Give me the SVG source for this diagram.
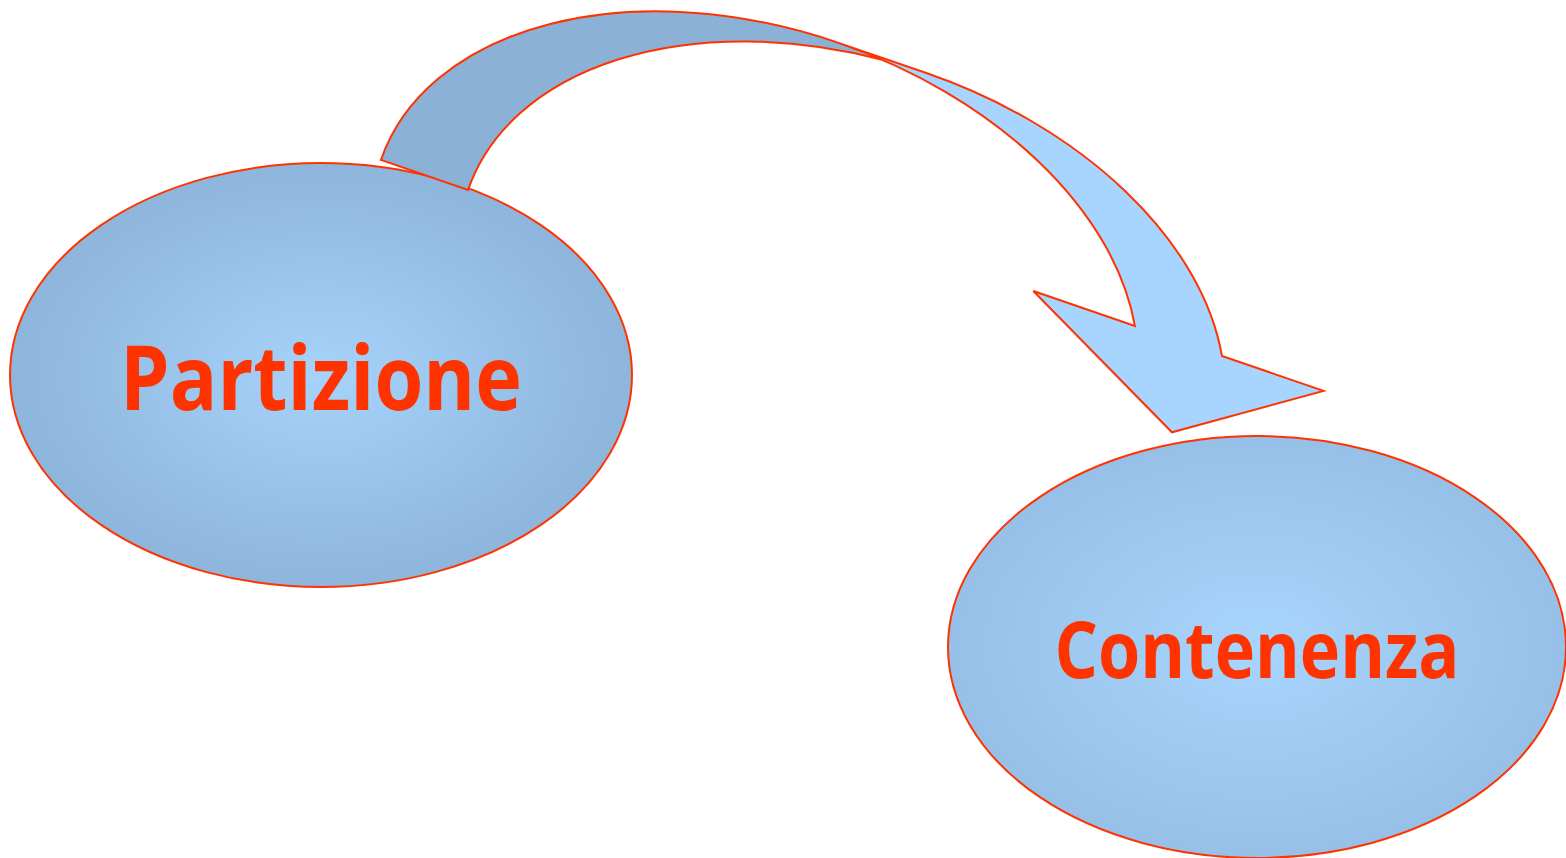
<svg xmlns="http://www.w3.org/2000/svg" width="1566" height="858" viewBox="0 0 1566 858">
  <defs>
    <radialGradient id="fillLeft" cx="50%" cy="50%" r="50%">
      <stop offset="0" stop-color="#A6D3FB"/>
      <stop offset="1" stop-color="#8EB5DB"/>
    </radialGradient>
    <radialGradient id="fillRight" cx="50%" cy="50%" r="50%">
      <stop offset="0" stop-color="#A8D5FE"/>
      <stop offset="1" stop-color="#96C0E7"/>
    </radialGradient>
    <style>
      .node { stroke: #FF3300; stroke-width: 2; }
      .label { font-family: "Open Sans", "DejaVu Sans", sans-serif; font-weight: 700; fill: #FF3300; text-anchor: middle; }
      .band-front { fill: #A8D5FF; stroke: none; }
      .band-back { fill: #8BB2D6; stroke: none; }
      .band-edge { fill: none; stroke: #FF3300; stroke-width: 2; stroke-linejoin: miter; }
    </style>
  </defs>

  <rect width="1566" height="858" fill="#FFFFFF"/>

  <g id="partizione">
    <ellipse class="node" cx="321" cy="375" rx="311" ry="212" fill="url(#fillLeft)"/>
    <text class="label" x="321" y="410" font-size="90" textLength="402" lengthAdjust="spacingAndGlyphs">Partizione</text>
  </g>

  <g id="contenenza">
    <ellipse class="node" cx="1257" cy="647" rx="309" ry="211" fill="url(#fillRight)"/>
    <text class="label" x="1257" y="678" font-size="78" textLength="405" lengthAdjust="spacingAndGlyphs">Contenenza</text>
  </g>

  <!-- curved ribbon arrow, built upright then turned 19 degrees -->
  <g id="connectors">
    <g transform="rotate(19)">
      <path class="band-front" d="M1248.85,27.2 L1071.74,-61.3 L1179.14,-61.3 A395.25,259.7 0 0 0 807.55,-232.5 L899.65,-232.5 A395.25,259.7 0 0 1 1271.24,-61.3 L1378.64,-61.3 Z"/>
      <path class="band-back" d="M853.6,-230.73 A395.25,259.7 0 0 0 504.4,27.2 L412.3,27.2 A395.25,259.7 0 0 1 853.6,-230.73 Z"/>
      <path class="band-edge" d="M853.6,-230.73 A395.25,259.7 0 0 0 504.4,27.2 L412.3,27.2 A395.25,259.7 0 0 1 807.55,-232.5 L899.65,-232.5 A395.25,259.7 0 0 1 1271.24,-61.3 L1378.64,-61.3 L1248.85,27.2 L1071.74,-61.3 L1179.14,-61.3 A395.25,259.7 0 0 0 807.55,-232.5"/>
    </g>
  </g>
</svg>
